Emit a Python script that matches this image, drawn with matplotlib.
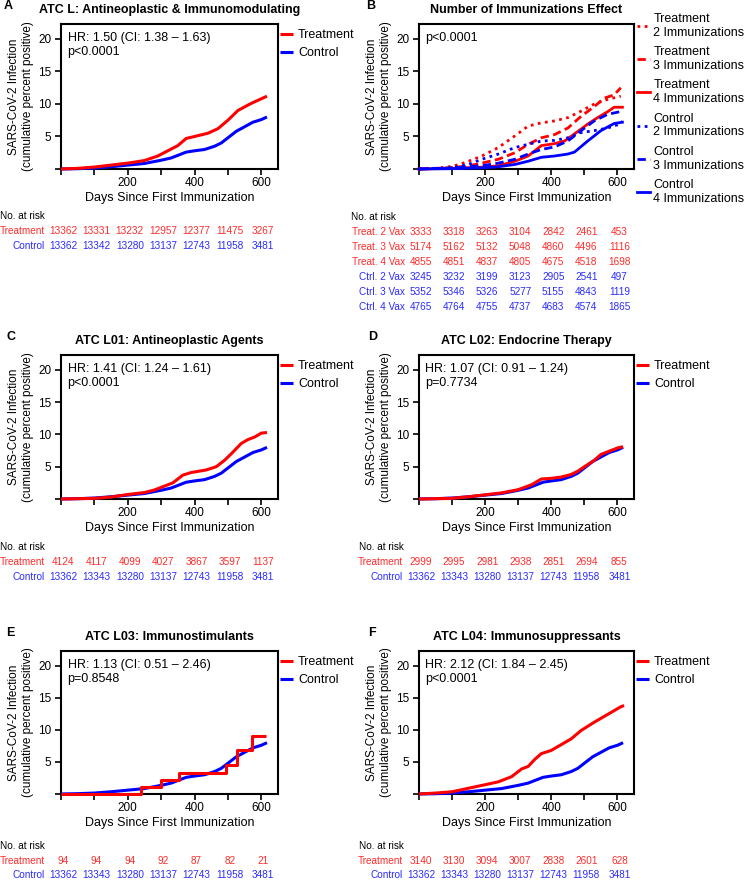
import matplotlib
matplotlib.use("Agg")
import matplotlib.pyplot as plt

plt.rcParams['font.family'] = ['Liberation Sans', 'DejaVu Sans']

W, H = 745, 882
RED = '#ff0000'
BLUE = '#0000ff'
TXT_RED = '#ff2b2b'
TXT_BLUE = '#2b2bff'

risk_days = [0, 100, 200, 300, 400, 500, 600]

# shared control cohort (A, C, D, E, F)
ctrl_days = [0, 50, 100, 150, 200, 250, 300, 330, 350, 375, 400, 430, 460, 480, 500, 525, 550, 575, 600, 617]
ctrl_vals = [0, 0.05, 0.15, 0.35, 0.6, 0.85, 1.35, 1.7, 2.1, 2.6, 2.8, 3.0, 3.5, 4.0, 4.8, 5.8, 6.5, 7.2, 7.6, 8.0]
ctrl_risk = [13362, 13343, 13280, 13137, 12743, 11958, 3481]
ctrl_risk_a = [13362, 13342, 13280, 13137, 12743, 11958, 3481]

# A: ATC L
a_days = [0, 50, 100, 150, 200, 250, 290, 320, 350, 375, 400, 440, 470, 500, 530, 570, 600, 617]
a_vals = [0, 0.1, 0.3, 0.6, 0.9, 1.3, 2.0, 2.8, 3.6, 4.7, 5.0, 5.5, 6.2, 7.5, 9.0, 10.1, 10.8, 11.2]
a_risk = [13362, 13331, 13232, 12957, 12377, 11475, 3267]

# C: ATC L01
c_days = [0, 100, 150, 200, 250, 280, 310, 335, 365, 390, 435, 465, 490, 510, 540, 560, 580, 600, 617]
c_vals = [0, 0.1, 0.3, 0.7, 1.0, 1.4, 2.0, 2.5, 3.7, 4.1, 4.5, 5.0, 6.0, 7.0, 8.6, 9.2, 9.6, 10.2, 10.3]
c_risk = [4124, 4117, 4099, 4027, 3867, 3597, 1137]

# D: ATC L02
d_days = [0, 100, 150, 200, 250, 300, 340, 370, 400, 430, 460, 480, 500, 530, 550, 575, 600, 617]
d_vals = [0, 0.1, 0.35, 0.65, 0.95, 1.45, 2.2, 3.1, 3.2, 3.4, 3.8, 4.3, 5.0, 6.0, 6.9, 7.4, 7.9, 8.1]
d_risk = [2999, 2995, 2981, 2938, 2851, 2694, 855]

# E: ATC L03 (step curve)
e_days = [0, 240, 300, 352, 495, 527, 572, 615]
e_vals = [0, 1.06, 2.13, 3.2, 4.45, 6.9, 9.0, 9.0]
e_risk = [94, 94, 94, 92, 87, 82, 21]

# F: ATC L04
f_days = [0, 50, 100, 150, 200, 240, 280, 310, 330, 350, 370, 400, 430, 460, 490, 530, 570, 610, 620]
f_vals = [0, 0.15, 0.35, 0.9, 1.45, 1.9, 2.7, 3.9, 4.3, 5.4, 6.3, 6.8, 7.7, 8.6, 9.9, 11.2, 12.4, 13.6, 13.8]
f_risk = [3140, 3130, 3094, 3007, 2838, 2601, 628]

# B: number of immunizations
b_t2_days = [0, 50, 100, 140, 190, 240, 290, 330, 370, 410, 450, 490, 530, 570, 610]
b_t2_vals = [0, 0.1, 0.4, 1.0, 2.0, 3.3, 5.1, 6.6, 7.1, 7.4, 7.9, 8.9, 10.0, 10.7, 11.2]
b_t3_days = [0, 100, 150, 190, 240, 290, 330, 370, 410, 450, 490, 530, 560, 590, 610]
b_t3_vals = [0, 0.2, 0.5, 0.9, 1.5, 2.5, 3.8, 4.8, 5.3, 6.3, 8.1, 9.6, 10.9, 11.4, 12.5]
b_t4_days = [0, 100, 200, 240, 290, 330, 350, 370, 410, 440, 470, 510, 540, 570, 590, 615]
b_t4_vals = [0, 0.1, 0.3, 0.5, 1.2, 2.0, 2.8, 3.6, 3.9, 4.3, 5.4, 6.9, 7.9, 8.8, 9.5, 9.5]
b_c2_days = [0, 100, 150, 190, 240, 290, 330, 370, 410, 450, 490, 530, 570, 600, 615]
b_c2_vals = [0, 0.2, 0.7, 1.5, 2.3, 3.3, 3.8, 4.3, 4.4, 4.8, 5.6, 5.9, 6.3, 6.8, 7.3]
b_c3_days = [0, 100, 190, 240, 290, 330, 370, 410, 450, 490, 530, 570, 615]
b_c3_vals = [0, 0.15, 0.5, 0.9, 1.5, 2.3, 3.0, 3.4, 4.3, 5.9, 7.4, 8.4, 8.9]
b_c4_days = [0, 100, 200, 240, 290, 330, 370, 410, 450, 470, 510, 550, 590, 615]
b_c4_vals = [0, 0.05, 0.2, 0.35, 0.7, 1.2, 1.8, 2.0, 2.3, 2.6, 4.3, 5.9, 7.0, 7.2]
b_labels = ['Treat. 2 Vax', 'Treat. 3 Vax', 'Treat. 4 Vax', 'Ctrl. 2 Vax', 'Ctrl. 3 Vax', 'Ctrl. 4 Vax']
b_risk = [
    [3333, 3318, 3263, 3104, 2842, 2461, 453],
    [5174, 5162, 5132, 5048, 4860, 4496, 1116],
    [4855, 4851, 4837, 4805, 4675, 4518, 1698],
    [3245, 3232, 3199, 3123, 2905, 2541, 497],
    [5352, 5346, 5326, 5277, 5155, 4843, 1119],
    [4765, 4764, 4755, 4737, 4683, 4574, 1865],
]

TABLE_FS = 7.2


def px_to_pt(p):
    return p * 0.72


def make_axes(fig, left, top, width, height):
    ax = fig.add_axes([left / W, 1 - (top + height) / H, width / W, height / H])
    ax.set_xlim(0, 650)
    ax.set_ylim(0, 22.3)
    ax.set_xticks([0, 100, 200, 300, 400, 500, 600])
    ax.set_xticklabels(['', '', '200', '', '400', '', '600'])
    ax.set_yticks([0, 5, 10, 15, 20])
    ax.set_yticklabels(['', '5', '10', '15', '20'])
    ax.tick_params(axis='both', direction='out', length=4.3, width=1.2, labelsize=8.5)
    ax.tick_params(axis='x', pad=1.5)
    ax.tick_params(axis='y', pad=2.5)
    for s in ax.spines.values():
        s.set_linewidth(1.5)
    ax.set_xlabel('Days Since First Immunization', fontsize=9, labelpad=2)
    ax.set_ylabel('SARS-CoV-2 Infection\n(cumulative percent positive)', fontsize=8.5, labelpad=3)
    return ax


def ax_bottom_px(ax):
    return (1 - ax.get_position().y0) * H


def risk_rows(fig, ax, rows, first_off, no_x, label_gap, step=15):
    fig.text(no_x / W, 1 - (ax_bottom_px(ax) + first_off) / H, 'No. at risk',
             fontsize=TABLE_FS, ha='left', va='center')
    for i, (name, nums, col) in enumerate(rows):
        off = px_to_pt(first_off + step * (i + 1))
        ax.annotate(name, xy=(0, 0), xycoords=('data', 'axes fraction'),
                    xytext=(-px_to_pt(label_gap), -off), textcoords='offset points',
                    ha='right', va='center', fontsize=TABLE_FS, color=col, annotation_clip=False)
        for d, n in zip(risk_days, nums):
            ax.annotate(str(n), xy=(d, 0), xycoords=('data', 'axes fraction'),
                        xytext=(px_to_pt(2), -off), textcoords='offset points',
                        ha='center', va='center', fontsize=TABLE_FS, color=col, annotation_clip=False)


def km_panel(fig, left, top, width, height, title, letter, letter_x, t_days, t_vals, hr_text,
             t_risk, c_risk, table_off, no_x, label_gap, step=15, steps=False):
    ax = make_axes(fig, left, top, width, height)
    ds = 'steps-post' if steps else 'default'
    ax.plot(ctrl_days, ctrl_vals, color=BLUE, lw=2.2, label='Control', solid_capstyle='butt',
            clip_on=False, zorder=3)
    ax.plot(t_days, t_vals, color=RED, lw=2.2, label='Treatment', drawstyle=ds,
            solid_capstyle='butt', clip_on=False, zorder=3)
    h, l = ax.get_legend_handles_labels()
    ax.legend(h[::-1], l[::-1], loc='upper left', bbox_to_anchor=(1.0, 0.975), frameon=False,
              fontsize=9, handlelength=1.05, handletextpad=0.4, borderpad=0, borderaxespad=0.15,
              labelspacing=0.45)
    ax.text(0.03, 0.945, hr_text, transform=ax.transAxes, ha='left', va='top', fontsize=9,
            linespacing=1.2)
    ax.set_title(title, fontsize=9, fontweight='bold', pad=8)
    fig.text(letter_x / W, 1 - (top - 18) / H, letter, fontsize=9, fontweight='bold',
             ha='left', va='center')
    risk_rows(fig, ax, [('Treatment', t_risk, TXT_RED), ('Control', c_risk, TXT_BLUE)],
              table_off, no_x, label_gap, step)
    return ax


fig = plt.figure(figsize=(W / 100, H / 100), dpi=100)

LX, RX = 61, 419
AW_L, AW_R = 217, 215

km_panel(fig, LX, 24, AW_L, 145, 'ATC L: Antineoplastic & Immunomodulating', 'A', 4,
         a_days, a_vals, 'HR: 1.50 (CI: 1.38 \u2013 1.63)\np<0.0001', a_risk, ctrl_risk_a, 47, 0, 16)
km_panel(fig, LX, 355, AW_L, 144, 'ATC L01: Antineoplastic Agents', 'C', 6,
         c_days, c_vals, 'HR: 1.41 (CI: 1.24 \u2013 1.61)\np<0.0001', c_risk, ctrl_risk, 48, 0, 16)
km_panel(fig, RX, 355, AW_R, 144, 'ATC L02: Endocrine Therapy', 'D', 368,
         d_days, d_vals, 'HR: 1.07 (CI: 0.91 \u2013 1.24)\np=0.7734', d_risk, ctrl_risk, 48, 359, 16)
km_panel(fig, LX, 651, AW_L, 143, 'ATC L03: Immunostimulants', 'E', 6,
         e_days, e_vals, 'HR: 1.13 (CI: 0.51 \u2013 2.46)\np=0.8548', e_risk, ctrl_risk, 52, 0, 16,
         step=14.5, steps=True)
km_panel(fig, RX, 651, AW_R, 143, 'ATC L04: Immunosuppressants', 'F', 368,
         f_days, f_vals, 'HR: 2.12 (CI: 1.84 \u2013 2.45)\np<0.0001', f_risk, ctrl_risk, 52, 359, 16,
         step=14.5)

# panel B
ax = make_axes(fig, RX, 24, AW_R, 145)
dot = (0, (1, 1.6))
dash = (0, (3, 1.6))
b_style = dict(lw=2, clip_on=False, zorder=3)
ax.plot(b_t2_days, b_t2_vals, color=RED, ls=dot, label='Treatment\n2 Immunizations', **b_style)
ax.plot(b_t3_days, b_t3_vals, color=RED, ls=dash, label='Treatment\n3 Immunizations', **b_style)
ax.plot(b_t4_days, b_t4_vals, color=RED, label='Treatment\n4 Immunizations', **b_style)
ax.plot(b_c2_days, b_c2_vals, color=BLUE, ls=dot, label='Control\n2 Immunizations', **b_style)
ax.plot(b_c3_days, b_c3_vals, color=BLUE, ls=dash, label='Control\n3 Immunizations', **b_style)
ax.plot(b_c4_days, b_c4_vals, color=BLUE, label='Control\n4 Immunizations', **b_style)
ax.legend(loc='upper left', bbox_to_anchor=(1.0, 1.095), frameon=False, fontsize=9,
          handlelength=1.05, handletextpad=0.3, borderpad=0, borderaxespad=0.2, labelspacing=0.6)
ax.text(0.03, 0.945, 'p<0.0001', transform=ax.transAxes, ha='left', va='top', fontsize=9)
ax.set_title('Number of Immunizations Effect', fontsize=9, fontweight='bold', pad=8)
fig.text(366 / W, 1 - 6 / H, 'B', fontsize=9, fontweight='bold', ha='left', va='center')
rows = [(lab, nums, TXT_RED if i < 3 else TXT_BLUE) for i, (lab, nums) in enumerate(zip(b_labels, b_risk))]
risk_rows(fig, ax, rows, 48, 351, 14)

fig.savefig('out.png', dpi=100)
